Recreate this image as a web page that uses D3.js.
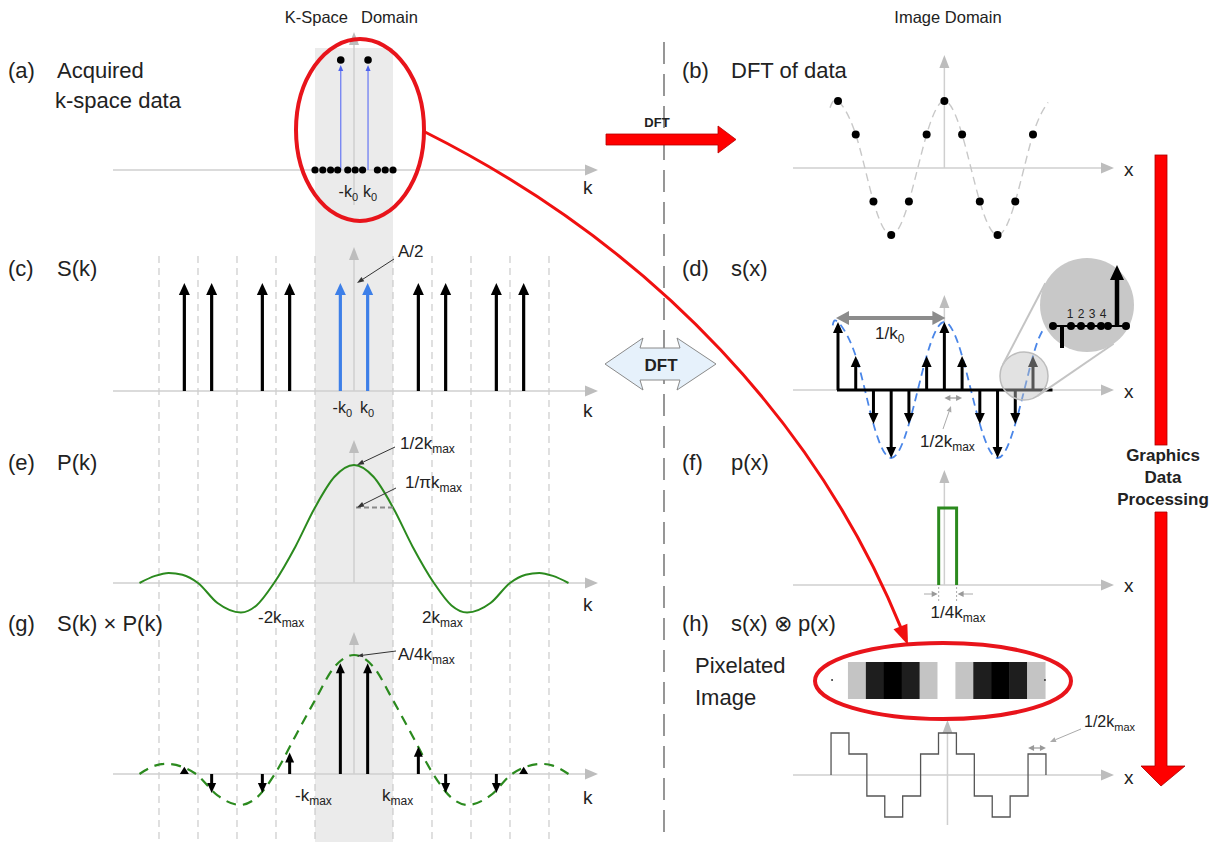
<!DOCTYPE html>
<html><head><meta charset="utf-8">
<script src="https://cdn.jsdelivr.net/npm/d3@7"></script>
<style>
body{margin:0;background:#fff}
svg{display:block}
text{font-family:"Liberation Sans",Arial,Helvetica,sans-serif;fill:#222}
</style>
</head><body>
<svg id="c" width="1213" height="847"></svg>
<script>
// ---------------- DATA ----------------
// (a) acquired k-space samples (k in units of kmax)
const kZeroSamples = [-1.0, -0.8, -0.6, -0.42, -0.16, 0.03, 0.22, 0.6, 0.8, 1.0];
const kSignalSamples = [-0.34, 0.36];
const signalValues = [1, 1];
// (c) replicated delta functions S(k)
const kComb = [-4.35, -3.65, -2.35, -1.65, -0.35, 0.35, 1.65, 2.35, 3.65, 4.35];
const combValues = [1, 1, 1, 1, 1, 1, 1, 1, 1, 1];
const kGrid = [-5, -4, -3, -2, -1, 1, 2, 3, 4, 5];
// (e) P(k) curve
const pK   = [-5.5, -5.1, -4.75, -4.4, -4.0, -3.5, -2.9, -2.5, -2.05, -1.5, -1.0, -0.5, 0, 0.5, 1.0, 1.5, 2.05, 2.5, 2.9, 3.5, 4.0, 4.4, 4.75, 5.1, 5.5];
const pVal = [0.0, 0.06, 0.085, 0.07, 0.0, -0.17, -0.25, -0.19, 0.0, 0.31, 0.64, 0.9, 1.0, 0.9, 0.64, 0.31, 0.0, -0.19, -0.25, -0.17, 0.0, 0.07, 0.085, 0.06, 0.0];
const pMarker = 0.64; // 1/(pi kmax) level
// (g) S(k) x P(k)
const gK   = [-5.5, -5.1, -4.8, -4.4, -4.05, -3.5, -2.92, -2.5, -2.03, -1.5, -1.0, -0.5, 0, 0.5, 1.0, 1.5, 2.03, 2.5, 2.92, 3.5, 4.05, 4.4, 4.8, 5.1, 5.5];
const gVal = [0.0, 0.07, 0.085, 0.06, 0.0, -0.18, -0.26, -0.2, 0.0, 0.32, 0.62, 0.9, 1.0, 0.9, 0.62, 0.32, 0.0, -0.2, -0.26, -0.18, 0.0, 0.06, 0.085, 0.07, 0.0];
const productValues = [0.06, -0.16, -0.16, 0.18, 0.93, 0.93, 0.23, -0.16, -0.16, 0.06];
// (b),(d),(h) image-domain samples
const xIndex = [-6, -5, -4, -3, -2, -1, 0, 1, 2, 3, 4, 5];
const dftValues = [1, 0.5, -0.5, -1, -0.5, 0.5, 1, 0.5, -0.5, -1, -0.5, 0.5];
const dftCurveEnds = [[-6.45, 0.9], [5.85, 0.98]];
const sCurveEnds = [[-6.3, 0.95], [5.6, 0.9]];
// (f) pixel function
const pulseFrom = -0.32, pulseTo = 0.69, pulseHeight = 1;
// magnifier contents
const magDots = [1053, 1071, 1081, 1091, 1101, 1108, 1126];
const magLabels = ["1", "2", "3", "4"];

// ---------------- SETUP ----------------
const svg = d3.select("#c");
const AX = "#cfcfcf", AXH = "#bdbdbd";
const RED = "#ff0000";

const xk = d3.scaleLinear().domain([-1, 1]).range([315, 393]);
const ya = d3.scaleLinear().domain([0, 1]).range([170, 60]);
const yc = d3.scaleLinear().domain([0, 1]).range([391, 283]);
const ye = d3.scaleLinear().domain([0, 1]).range([583, 465]);
const yg = d3.scaleLinear().domain([0, 1]).range([774, 655]);
const xi = d3.scaleLinear().domain([-6, 5]).range([838, 1033]);
const xh = d3.scaleLinear().domain([-6, 5]).range([840, 1037]);
const yb = d3.scaleLinear().domain([0, 1]).range([168, 101]);
const yd = d3.scaleLinear().domain([0, 1]).range([390, 322]);
const yf = d3.scaleLinear().domain([0, 1]).range([585, 508]);
const yh = d3.scaleLinear().domain([0, 1]).range([775, 733]);

function vArrow(g, x, y0, y1, o) {
  const dir = y1 < y0 ? -1 : 1;
  const len = Math.abs(y1 - y0);
  const hl = Math.min(o.hl, len);
  if (len - hl > 0.5) {
    g.append("line").attr("x1", x).attr("x2", x).attr("y1", y0).attr("y2", y1 - dir * (hl - 1))
      .attr("stroke", o.color).attr("stroke-width", o.sw);
  }
  g.append("path").attr("d", `M${x},${y1}L${x - o.hw / 2},${y1 - dir * hl}L${x + o.hw / 2},${y1 - dir * hl}Z`)
    .attr("fill", o.color);
}
function hArrowHead(g, x, y, dir, hl, hw, color) {
  g.append("path").attr("d", `M${x},${y}L${x - dir * hl},${y - hw / 2}L${x - dir * hl},${y + hw / 2}Z`).attr("fill", color);
}
function dblArrow(g, x0, x1, y, o) {
  g.append("line").attr("x1", x0 + o.hl - 1).attr("x2", x1 - o.hl + 1).attr("y1", y).attr("y2", y)
    .attr("stroke", o.color).attr("stroke-width", o.sw);
  hArrowHead(g, x1, y, 1, o.hl, o.hw, o.color);
  hArrowHead(g, x0, y, -1, o.hl, o.hw, o.color);
}
function leader(g, x1, y1, x2, y2, color, sw, hl, hw) {
  const a = Math.atan2(y2 - y1, x2 - x1);
  const bx = x2 - hl * Math.cos(a), by = y2 - hl * Math.sin(a);
  g.append("line").attr("x1", x1).attr("y1", y1).attr("x2", bx).attr("y2", by)
    .attr("stroke", color).attr("stroke-width", sw);
  const px = -Math.sin(a) * hw / 2, py = Math.cos(a) * hw / 2;
  g.append("path").attr("d", `M${x2},${y2}L${bx + px},${by + py}L${bx - px},${by - py}Z`).attr("fill", color);
}
function subText(g, x, y, main, sub, o = {}) {
  const t = g.append("text").attr("x", x).attr("y", y).attr("font-size", o.fs || 17)
    .attr("text-anchor", o.anchor || "start");
  if (o.weight) t.attr("font-weight", o.weight);
  t.append("tspan").text(main);
  t.append("tspan").attr("font-size", o.sfs || 12).attr("dy", o.dy || 4).text(sub);
  return t;
}
function text(g, x, y, s, o = {}) {
  const t = g.append("text").attr("x", x).attr("y", y).attr("font-size", o.fs || 22)
    .attr("text-anchor", o.anchor || "start").text(s);
  if (o.weight) t.attr("font-weight", o.weight);
  if (o.fill) t.attr("fill", o.fill);
  return t;
}

// ---------------- BACKGROUND ----------------
const bg = svg.append("g");
bg.append("rect").attr("x", xk(-1)).attr("y", 48).attr("width", xk(1) - xk(-1)).attr("height", 794).attr("fill", "#ebebeb");
bg.selectAll("line.grid").data(kGrid).join("line").attr("class", "grid")
  .attr("x1", d => xk(d)).attr("x2", d => xk(d)).attr("y1", 256).attr("y2", 842)
  .attr("stroke", "#c6c6c6").attr("stroke-width", 1.1).attr("stroke-dasharray", "7,5");
bg.append("line").attr("x1", 664).attr("x2", 664).attr("y1", 42).attr("y2", 842)
  .attr("stroke", "#6b6b6b").attr("stroke-width", 1.4).attr("stroke-dasharray", "22,10");

// ---------------- AXES ----------------
const axes = svg.append("g");
const leftBase = [ya(0), yc(0), ye(0), yg(0)];
const leftTop = [32, 247, 440, 632];
const leftBottom = [205, yc(0), ye(0), yg(0)];
leftBase.forEach((y, i) => {
  axes.append("line").attr("x1", 113).attr("x2", 586).attr("y1", y).attr("y2", y).attr("stroke", AX).attr("stroke-width", 1.5);
  hArrowHead(axes, 598, y, 1, 13, 11, AXH);
  axes.append("line").attr("x1", xk(0)).attr("x2", xk(0)).attr("y1", leftBottom[i]).attr("y2", leftTop[i] + 10).attr("stroke", AX).attr("stroke-width", 1.5);
  axes.append("path").attr("d", `M${xk(0)},${leftTop[i]}L${xk(0) - 5},${leftTop[i] + 13}L${xk(0) + 5},${leftTop[i] + 13}Z`).attr("fill", AXH);
});
const rightBase = [yb(0), yd(0), yf(0), yh(0)];
const rightTop = [55, 295, 470, 720];
const rightBottom = [yb(0), yd(0), yf(0), 825];
const rightX = [xi(0), xi(0), xi(0), xh(0)];
rightBase.forEach((y, i) => {
  axes.append("line").attr("x1", 793).attr("x2", 1102).attr("y1", y).attr("y2", y).attr("stroke", AX).attr("stroke-width", 1.5);
  hArrowHead(axes, 1114, y, 1, 13, 11, AXH);
  const x = rightX[i];
  axes.append("line").attr("x1", x).attr("x2", x).attr("y1", rightBottom[i]).attr("y2", rightTop[i] + 10).attr("stroke", AX).attr("stroke-width", 1.5);
  axes.append("path").attr("d", `M${x},${rightTop[i]}L${x - 5},${rightTop[i] + 13}L${x + 5},${rightTop[i] + 13}Z`).attr("fill", AXH);
});
[194, 417, 611, 804].forEach(y => text(axes, 583, y, "k", { fs: 19 }));
[176, 398, 592, 784].forEach(y => text(axes, 1124, y, "x", { fs: 19 }));

// ---------------- TITLES & PANEL LABELS ----------------
const lab = svg.append("g");
text(lab, 348, 23, "K-Space", { fs: 16.5, anchor: "end", fill: "#333" });
text(lab, 361, 23, "Domain", { fs: 16.5, fill: "#333" });
text(lab, 948, 23, "Image Domain", { fs: 16.5, anchor: "middle", fill: "#333" });
const leftLabels = [["(a)", "Acquired", 78], ["(c)", "S(k)", 276], ["(e)", "P(k)", 470], ["(g)", "S(k) \u00d7 P(k)", 631]];
leftLabels.forEach(([a, b, y]) => { text(lab, 8, y, a); text(lab, 57, y, b); });
text(lab, 55, 108, "k-space data");
const rightLabels = [["(b)", "DFT of data", 78], ["(d)", "s(x)", 276], ["(f)", "p(x)", 470], ["(h)", "s(x) \u2297 p(x)", 631]];
rightLabels.forEach(([a, b, y]) => { text(lab, 682, y, a); text(lab, 731, y, b); });

// ---------------- (a) ----------------
const ga = svg.append("g");
ga.selectAll("line.sig").data(kSignalSamples).join("line").attr("class", "sig")
  .attr("x1", d => xk(d)).attr("x2", d => xk(d)).attr("y1", ya(0)).attr("y2", (d, i) => ya(signalValues[i]) + 8)
  .attr("stroke", "#6f7ff2").attr("stroke-width", 1.3);
kSignalSamples.forEach((d, i) => {
  const x = xk(d), y = ya(signalValues[i]) + 5;
  ga.append("path").attr("d", `M${x},${y}L${x - 2.5},${y + 6}L${x + 2.5},${y + 6}Z`).attr("fill", "#4d63ee");
});
ga.selectAll("circle.z").data(kZeroSamples).join("circle").attr("class", "z")
  .attr("cx", d => xk(d)).attr("cy", ya(0)).attr("r", 3.6).attr("fill", "#000");
ga.selectAll("circle.s").data(kSignalSamples).join("circle").attr("class", "s")
  .attr("cx", d => xk(d)).attr("cy", (d, i) => ya(signalValues[i])).attr("r", 3.8).attr("fill", "#000");
subText(ga, 358, 197, "-k", "0", { fs: 16, sfs: 11, anchor: "end" });
subText(ga, 363, 197, "k", "0", { fs: 16, sfs: 11 });
ga.append("ellipse").attr("cx", 360).attr("cy", 130).attr("rx", 64).attr("ry", 91)
  .attr("fill", "none").attr("stroke", "#e8141b").attr("stroke-width", 4);

// ---------------- (c) ----------------
const gc = svg.append("g");
kComb.forEach((k, i) => {
  const col = Math.abs(k) < 1 ? "#3d7fe8" : "#000";
  vArrow(gc, xk(k), yc(0), yc(combValues[i]), { color: col, sw: 3.2, hl: 12, hw: 11 });
});
subText(gc, 352, 413, "-k", "0", { fs: 16, sfs: 11, anchor: "end" });
subText(gc, 360, 413, "k", "0", { fs: 16, sfs: 11 });
text(gc, 398, 257, "A/2", { fs: 17 });
leader(gc, 394, 259, xk(0) + 3, 283, "#333", 1, 7, 5);

// ---------------- (e) ----------------
const ge = svg.append("g");
const lineE = d3.line().x(d => xk(d[0])).y(d => ye(d[1])).curve(d3.curveMonotoneX);
ge.append("path").attr("d", lineE(pK.map((k, i) => [k, pVal[i]])))
  .attr("fill", "none").attr("stroke", "#2b8a1e").attr("stroke-width", 2);
ge.append("line").attr("x1", xk(0) + 2).attr("x2", xk(1) + 2).attr("y1", ye(pMarker)).attr("y2", ye(pMarker))
  .attr("stroke", "#8a8a8a").attr("stroke-width", 2).attr("stroke-dasharray", "5,3");
subText(ge, 400, 449, "1/2k", "max", { fs: 17, sfs: 12 });
leader(ge, 395, 447, xk(0) + 3, ye(1), "#333", 1, 7, 5);
subText(ge, 405, 488, "1/\u03c0k", "max", { fs: 17, sfs: 12 });
leader(ge, 396, 488, xk(0) + 3, ye(pMarker), "#333", 1, 7, 5);
subText(ge, 258, 623, "-2k", "max", { fs: 17, sfs: 12 });
subText(ge, 422, 623, "2k", "max", { fs: 17, sfs: 12 });

// ---------------- (g) ----------------
const gg = svg.append("g");
const lineG = d3.line().x(d => xk(d[0])).y(d => yg(d[1])).curve(d3.curveMonotoneX);
gg.append("path").attr("d", lineG(gK.map((k, i) => [k, gVal[i]])))
  .attr("fill", "none").attr("stroke", "#2b8a1e").attr("stroke-width", 2.2).attr("stroke-dasharray", "10,7");
kComb.forEach((k, i) => {
  vArrow(gg, xk(k), yg(0), yg(productValues[i]), { color: "#000", sw: 3, hl: 10, hw: 9 });
});
subText(gg, 398, 660, "A/4k", "max", { fs: 17, sfs: 12 });
leader(gg, 396, 651, xk(0) + 3, yg(1) + 1, "#333", 1, 6, 4);
subText(gg, 295, 801, "-k", "max", { fs: 17, sfs: 12 });
subText(gg, 382, 801, "k", "max", { fs: 17, sfs: 12 });

// ---------------- (b) ----------------
const gb = svg.append("g");
const ptsB = [dftCurveEnds[0], ...xIndex.map((x, i) => [x, dftValues[i]]), dftCurveEnds[1]];
const lineB = d3.line().x(d => xi(d[0])).y(d => yb(d[1])).curve(d3.curveNatural);
gb.append("path").attr("d", lineB(ptsB)).attr("fill", "none").attr("stroke", "#c8c8c8")
  .attr("stroke-width", 1.4).attr("stroke-dasharray", "8,5");
gb.selectAll("circle").data(xIndex).join("circle")
  .attr("cx", d => xi(d)).attr("cy", (d, i) => yb(dftValues[i])).attr("r", 4).attr("fill", "#000");

// ---------------- (d) ----------------
const gd = svg.append("g");
const ptsD = [sCurveEnds[0], ...xIndex.map((x, i) => [x, dftValues[i]]), sCurveEnds[1]];
const lineD = d3.line().x(d => xi(d[0])).y(d => yd(d[1])).curve(d3.curveNatural);
gd.append("path").attr("d", lineD(ptsD)).attr("fill", "none").attr("stroke", "#4a86e8")
  .attr("stroke-width", 1.8).attr("stroke-dasharray", "8,5");
gd.append("line").attr("x1", xi(-6) - 1).attr("x2", xi(6.1)).attr("y1", yd(0)).attr("y2", yd(0))
  .attr("stroke", "#000").attr("stroke-width", 3);
xIndex.forEach((x, i) => vArrow(gd, xi(x), yd(0), yd(dftValues[i]), { color: "#000", sw: 3, hl: 11, hw: 10 }));
dblArrow(gd, xi(-6) - 2, xi(0) + 1, 318, { color: "#8c8c8c", sw: 4, hl: 13, hw: 14 });
subText(gd, 875, 339, "1/k", "0", { fs: 17, sfs: 12 });
dblArrow(gd, xi(0), xi(1), 398, { color: "#9a9a9a", sw: 1.2, hl: 6, hw: 6 });
leader(gd, 943, 429, 951, 406, "#aaa", 1, 6, 5);
subText(gd, 920, 447, "1/2k", "max", { fs: 17, sfs: 12 });
// magnifier
const c1 = { x: 1024, y: 376, r: 24 }, c2 = { x: 1087, y: 305, r: 47 };
gd.append("circle").attr("cx", c1.x).attr("cy", c1.y).attr("r", c1.r)
  .attr("fill", "rgba(190,190,190,0.45)").attr("stroke", "#bdbdbd").attr("stroke-width", 1.5);
{
  const dx = c2.x - c1.x, dy = c2.y - c1.y, d = Math.hypot(dx, dy);
  const th = Math.atan2(dy, dx), al = Math.acos((c1.r - c2.r) / d);
  [th + al, th - al].forEach(a => {
    gd.append("line").attr("x1", c1.x + c1.r * Math.cos(a)).attr("y1", c1.y + c1.r * Math.sin(a))
      .attr("x2", c2.x + c2.r * Math.cos(a)).attr("y2", c2.y + c2.r * Math.sin(a))
      .attr("stroke", "#c4c4c4").attr("stroke-width", 2);
  });
}
gd.append("circle").attr("cx", c2.x).attr("cy", c2.y).attr("r", c2.r).attr("fill", "#c8c8c8");
gd.append("line").attr("x1", 1050).attr("x2", 1128).attr("y1", 326).attr("y2", 326).attr("stroke", "#000").attr("stroke-width", 2);
gd.append("line").attr("x1", 1062).attr("x2", 1062).attr("y1", 326).attr("y2", 348).attr("stroke", "#000").attr("stroke-width", 4);
gd.selectAll("circle.mag").data(magDots).join("circle").attr("class", "mag")
  .attr("cx", d => d).attr("cy", 326).attr("r", 4).attr("fill", "#000");
vArrow(gd, 1117, 326, 265, { color: "#000", sw: 4.5, hl: 15, hw: 14 });
magLabels.forEach((s, i) => text(gd, 1070 + i * 11, 318, s, { fs: 12, anchor: "middle" }));

// ---------------- (f) ----------------
const gf = svg.append("g");
gf.append("path").attr("d", `M${xi(pulseFrom)},${yf(0)}V${yf(pulseHeight)}H${xi(pulseTo)}V${yf(0)}`)
  .attr("fill", "none").attr("stroke", "#2b8a1e").attr("stroke-width", 3);
[pulseFrom, pulseTo].forEach(p => gf.append("line").attr("x1", xi(p)).attr("x2", xi(p)).attr("y1", yf(0) + 2).attr("y2", yf(0) + 16)
  .attr("stroke", "#aaa").attr("stroke-width", 1).attr("stroke-dasharray", "2,2"));
gf.append("line").attr("x1", 924).attr("x2", xi(pulseFrom) - 5).attr("y1", 594).attr("y2", 594).attr("stroke", "#aaa").attr("stroke-width", 1);
hArrowHead(gf, xi(pulseFrom) - 1, 594, 1, 6, 6, "#999");
gf.append("line").attr("x1", xi(pulseTo) + 5).attr("x2", 973).attr("y1", 594).attr("y2", 594).attr("stroke", "#aaa").attr("stroke-width", 1);
hArrowHead(gf, xi(pulseTo) + 1, 594, -1, 6, 6, "#999");
subText(gf, 958, 618, "1/4k", "max", { fs: 17, sfs: 12, anchor: "middle" });

// ---------------- (h) ----------------
const gh = svg.append("g");
text(gh, 695, 673, "Pixelated", { fs: 22 });
text(gh, 695, 705, "Image", { fs: 22 });
const step = xh(1) - xh(0);
const gray = d3.scaleLinear().domain([-1, -0.5, 0.5, 1]).range(["#000000", "#1e1e1e", "#c4c4c4", "#ffffff"]);
gh.selectAll("rect.px").data(xIndex).join("rect").attr("class", "px")
  .attr("x", d => xh(d) - step / 2 - 1).attr("y", 662).attr("width", step + 0.6).attr("height", 37)
  .attr("fill", (d, i) => gray(dftValues[i]));
gh.append("circle").attr("cx", xh(-6) - step / 2 + 1).attr("cy", 680).attr("r", 1).attr("fill", "#333");
gh.append("circle").attr("cx", xh(5) + step / 2 - 1).attr("cy", 680).attr("r", 1).attr("fill", "#333");
gh.append("ellipse").attr("cx", 943).attr("cy", 681).attr("rx", 128).attr("ry", 38)
  .attr("fill", "none").attr("stroke", "#e8141b").attr("stroke-width", 4);
const stairPts = [[xh(-6) - step / 2, 0]];
xIndex.forEach((x, i) => { stairPts.push([xh(x) - step / 2, dftValues[i]]); stairPts.push([xh(x) + step / 2, dftValues[i]]); });
stairPts.push([xh(5) + step / 2, 0]);
gh.append("path").attr("d", d3.line().x(d => d[0]).y(d => yh(d[1]))(stairPts))
  .attr("fill", "none").attr("stroke", "#555").attr("stroke-width", 1.3);
dblArrow(gh, xh(4.5), xh(5.5), 748, { color: "#999", sw: 1.2, hl: 6, hw: 6 });
leader(gh, 1081, 729, 1050, 742, "#aaa", 1, 6, 5);
subText(gh, 1084, 727, "1/2k", "max", { fs: 16, sfs: 11 });

// ---------------- ARROWS ----------------
const ar = svg.append("g");
// DFT arrow (top)
ar.append("path").attr("d", "M606,134H718V126L736,139.5L718,153V145H606Z")
  .attr("fill", RED).attr("stroke", "#b30000").attr("stroke-width", 0.8);
text(ar, 657, 127, "DFT", { fs: 13, weight: "bold", anchor: "middle" });
// double DFT arrow
ar.append("path").attr("d", "M605,364L643,338L640,348H680L677,338L716,364L677,390L680,380H640L643,390Z")
  .attr("fill", "#e6f1fb").attr("stroke", "#8a8a8a").attr("stroke-width", 1);
text(ar, 661, 371, "DFT", { fs: 17, weight: "bold", anchor: "middle" });
// vertical processing arrow
ar.append("rect").attr("x", 1155).attr("y", 155).attr("width", 12).attr("height", 290)
  .attr("fill", RED).attr("stroke", "#a00").attr("stroke-width", 0.8);
ar.append("path").attr("d", "M1155,512H1167V766H1185L1161,786L1141,766H1155Z")
  .attr("fill", RED).attr("stroke", "#a00").attr("stroke-width", 0.8);
text(ar, 1163, 461, "Graphics", { fs: 17, weight: "bold", anchor: "middle" });
text(ar, 1163, 483, "Data", { fs: 17, weight: "bold", anchor: "middle" });
text(ar, 1163, 505, "Processing", { fs: 17, weight: "bold", anchor: "middle" });
// curved red arrow
{
  const P0 = [425, 132], P1 = [660, 250], P2 = [820, 430], P3 = [908, 645];
  const a = Math.atan2(P3[1] - P2[1], P3[0] - P2[0]);
  const hl = 20, hw = 15;
  const bx = P3[0] - hl * Math.cos(a), by = P3[1] - hl * Math.sin(a);
  const p = d3.path();
  p.moveTo(P0[0], P0[1]);
  p.bezierCurveTo(P1[0], P1[1], P2[0], P2[1], bx + 2 * Math.cos(a), by + 2 * Math.sin(a));
  ar.append("path").attr("d", p.toString()).attr("fill", "none").attr("stroke", "#f01010").attr("stroke-width", 3);
  const px = -Math.sin(a) * hw / 2, py = Math.cos(a) * hw / 2;
  ar.append("path").attr("d", `M${P3[0]},${P3[1]}L${bx + px},${by + py}L${bx - px},${by - py}Z`).attr("fill", "#f01010");
}
</script>
</body></html>
